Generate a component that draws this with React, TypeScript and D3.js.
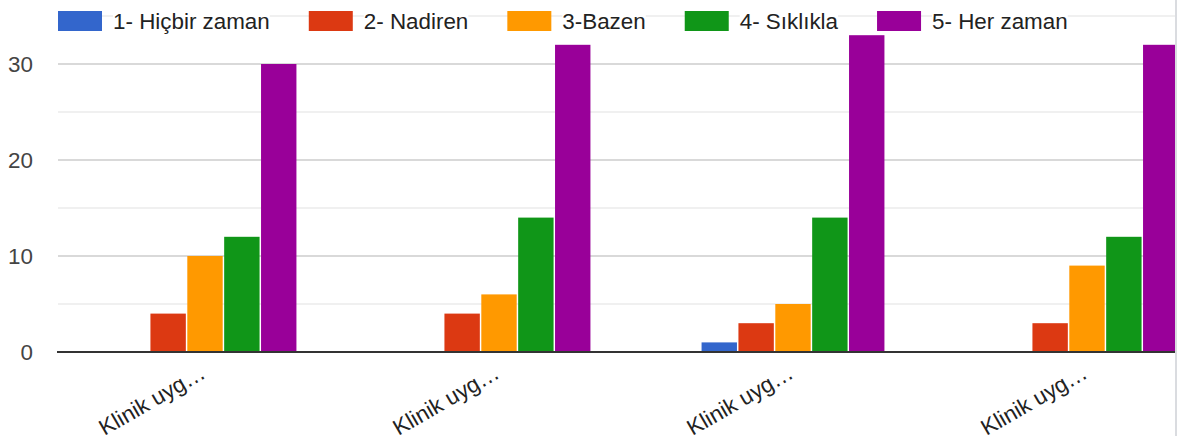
import * as d3 from 'd3'
import { useEffect, useRef } from 'react'

const categories = ['Klinik uyg…', 'Klinik uyg…', 'Klinik uyg…', 'Klinik uyg…']
const seriesNames = ['1- Hiçbir zaman', '2- Nadiren', '3-Bazen', '4- Sıklıkla', '5- Her zaman']
const seriesColors = ['#3366cc', '#dc3912', '#ff9900', '#109618', '#990099']
// one array per category, values in series order
const group1 = [0, 4, 10, 12, 30]
const group2 = [0, 4, 6, 14, 32]
const group3 = [1, 3, 5, 14, 33]
const group4 = [0, 3, 9, 12, 32]
const majorTicks = [0, 10, 20, 30]
const minorTicks = [5, 15, 25, 35]

const W = 1177
const H = 436
const FONT = 'Arial, "Liberation Sans", sans-serif'
const FS = 22.4

const App = () => {
  const ref = useRef<SVGSVGElement>(null)

  useEffect(() => {
    document.body.style.margin = '0'
    const groups = [group1, group2, group3, group4]
    const svg = d3.select(ref.current)
    svg.selectAll('*').remove()

    const margin = { left: 58, top: 16, bottom: 84 }
    const y = d3.scaleLinear().domain([0, 35]).range([H - margin.bottom, margin.top])
    const x = d3
      .scaleBand<number>()
      .domain(d3.range(categories.length))
      .range([margin.left, margin.left + 1176])
      .paddingInner(0.378)
      .paddingOuter(0.189)
    const xs = d3
      .scaleBand<number>()
      .domain(d3.range(seriesNames.length))
      .range([0, x.bandwidth()])
      .paddingInner(0.04)

    // gridlines
    svg
      .append('g')
      .selectAll('line')
      .data(minorTicks)
      .enter()
      .append('line')
      .attr('x1', margin.left)
      .attr('x2', W)
      .attr('y1', (d) => y(d))
      .attr('y2', (d) => y(d))
      .attr('stroke', '#ebebeb')
      .attr('stroke-width', 1.5)
    svg
      .append('g')
      .selectAll('line')
      .data(majorTicks.filter((d) => d !== 0))
      .enter()
      .append('line')
      .attr('x1', margin.left)
      .attr('x2', W)
      .attr('y1', (d) => y(d))
      .attr('y2', (d) => y(d))
      .attr('stroke', '#cccccc')
      .attr('stroke-width', 1.5)

    // y labels
    svg
      .append('g')
      .selectAll('text')
      .data(majorTicks)
      .enter()
      .append('text')
      .attr('x', 33)
      .attr('y', (d) => y(d) + 8)
      .attr('text-anchor', 'end')
      .attr('font-family', FONT)
      .attr('font-size', FS)
      .attr('fill', '#444')
      .text((d) => d)

    // bars
    const g = svg
      .append('g')
      .selectAll('g')
      .data(groups)
      .enter()
      .append('g')
      .attr('transform', (_d, i) => `translate(${x(i)},0)`)
    g.selectAll('rect')
      .data((d) => d.map((v, j) => ({ v, j })))
      .enter()
      .filter((d) => d.v > 0)
      .append('rect')
      .attr('x', (d) => xs(d.j)!)
      .attr('width', xs.bandwidth())
      .attr('y', (d) => y(d.v))
      .attr('height', (d) => y(0) - y(d.v))
      .attr('fill', (d) => seriesColors[d.j])

    // baseline
    svg
      .append('line')
      .attr('x1', margin.left - 1)
      .attr('x2', W)
      .attr('y1', y(0))
      .attr('y2', y(0))
      .attr('stroke', '#333')
      .attr('stroke-width', 2)

    // category labels
    svg
      .append('g')
      .selectAll('text')
      .data(categories)
      .enter()
      .append('text')
      .attr('transform', (_d, i) => `translate(${x(i)! + x.bandwidth() / 2 + 2},${y(0) + 25}) rotate(-30)`)
      .attr('text-anchor', 'end')
      .attr('font-family', FONT)
      .attr('font-size', FS)
      .attr('fill', '#222')
      .text((d) => d)

    // legend
    const leg = svg.append('g')
    let lx = 58
    seriesNames.forEach((name, i) => {
      leg
        .append('rect')
        .attr('x', lx)
        .attr('y', 11)
        .attr('width', 44)
        .attr('height', 20)
        .attr('fill', seriesColors[i])
      const bg = leg.append('rect').attr('fill', '#fff')
      const t = leg
        .append('text')
        .attr('x', lx + 55)
        .attr('y', 29)
        .attr('font-family', FONT)
        .attr('font-size', FS)
        .attr('fill', '#222')
        .text(name)
      const tw = (t.node() as SVGTextElement).getComputedTextLength()
      bg.attr('x', lx + 55).attr('y', 8).attr('width', tw).attr('height', 26)
      lx += 55 + tw + 39
    })

    // right border
    svg
      .append('line')
      .attr('x1', W - 1)
      .attr('x2', W - 1)
      .attr('y1', 0)
      .attr('y2', H)
      .attr('stroke', '#dadce0')
      .attr('stroke-width', 2)
  }, [])

  return <svg ref={ref} width={W} height={H} style={{ display: 'block', background: '#fff' }} />
}

export default App
